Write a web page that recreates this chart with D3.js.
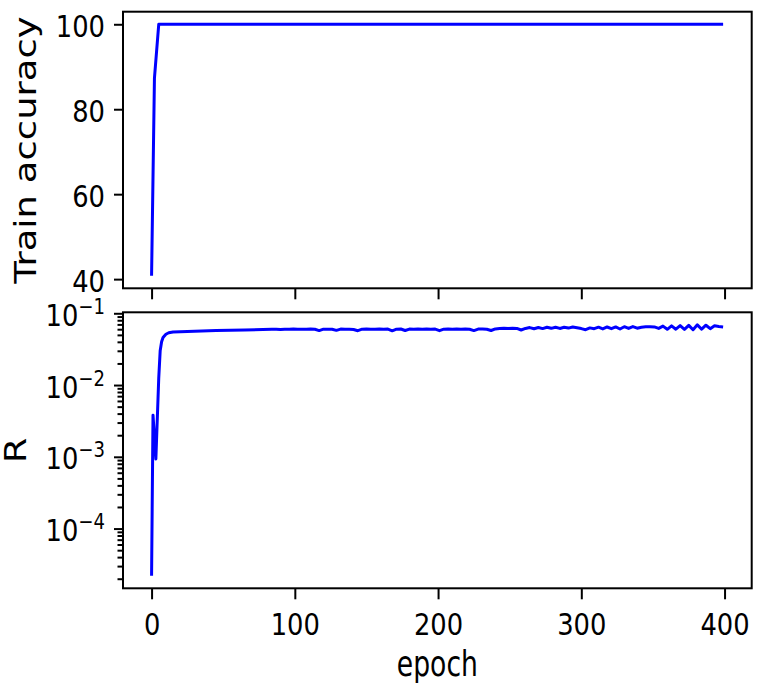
<!DOCTYPE html>
<html>
<head>
<meta charset="utf-8">
<script src="https://cdn.jsdelivr.net/npm/d3@7"></script>
<style>
  body { margin: 0; background: #fff; }
  text { font-family: "DejaVu Sans", sans-serif; fill: #000; }
</style>
</head>
<body>
<div id="chart"></div>
<script>
// tick labels
const epochTicks = [0, 100, 200, 300, 400];
const accTicks = [40, 60, 80, 100];
const rExponents = [-4, -3, -2, -1];

// train accuracy, only breakpoints (flat at 100 after epoch 5)
const accEpochs = [0, 2, 5, 399];
const accValues = [40.8, 87.3, 100, 100];

// R, early smooth part
const rEarlyEpochs = [0, 1, 3, 5, 6, 7, 8, 10, 12, 15, 25, 45, 65, 84];
const rEarlyValues = [2.2e-5, 3.8e-3, 9.3e-4, 0.0125, 0.030, 0.040, 0.046, 0.051,
  0.0535, 0.0548, 0.0558, 0.0574, 0.0587, 0.0597];

// R, noisy part, read every 3 epochs from 87 to 399
const rLateValues = [
  0.0600, 0.0596, 0.0601, 0.0598, 0.0602, 0.0597, 0.0600, 0.0599, 0.0602, 0.0598,
  0.0574, 0.0601, 0.0597, 0.0600, 0.0578, 0.0602, 0.0599, 0.0601, 0.0595, 0.0572,
  0.0600, 0.0603, 0.0598, 0.0601, 0.0603, 0.0600, 0.0602, 0.0570, 0.0600, 0.0603,
  0.0576, 0.0602, 0.0599, 0.0604, 0.0601, 0.0603, 0.0600, 0.0602, 0.0573, 0.0601,
  0.0604, 0.0598, 0.0603, 0.0600, 0.0605, 0.0598, 0.0574, 0.0602, 0.0606, 0.0600,
  0.0575, 0.0605,
  0.0612, 0.0618, 0.0614, 0.0620, 0.0616, 0.0585, 0.0615, 0.0632, 0.0610, 0.0634,
  0.0612, 0.0638, 0.0617, 0.0640, 0.0615, 0.0638, 0.0622, 0.0645, 0.0628, 0.0612,
  0.0590, 0.0626, 0.0610, 0.0640, 0.0606, 0.0644, 0.0610, 0.0646, 0.0604, 0.0650,
  0.0614, 0.0652, 0.0620, 0.0640, 0.0648, 0.0650, 0.0645, 0.0615, 0.0662, 0.0598,
  0.0668, 0.0600, 0.0672, 0.0595, 0.0678, 0.0590, 0.0690, 0.0600, 0.0682, 0.0610,
  0.0668, 0.0655, 0.0645
];
const rLateEpochs = d3.range(87, 400, 3);

const W = 761, H = 685;
// the picture is squeezed horizontally, text follows
const tickFont = 30, tickSX = 0.86;
const labelFont = 37, labelSX = 0.8;
const left = 123, right = 751.7;
const top1 = 11.7, bot1 = 288.3;
const top2 = 312.3, bot2 = 588.3;
const labelEnd = -(left - 105) / tickSX;   // tick labels end at x = 105

const pad = ([a, b]) => { const m = (b - a) * 0.05; return [a - m, b + m]; };
const padLog = ([a, b]) => {
  const lo = Math.log10(a), hi = Math.log10(b), m = (hi - lo) * 0.05;
  return [Math.pow(10, lo - m), Math.pow(10, hi + m)];
};

const accData = accEpochs.map((e, i) => ({ e, v: accValues[i] }));
const rData = rEarlyEpochs.map((e, i) => ({ e, v: rEarlyValues[i] }))
  .concat(rLateEpochs.map((e, i) => ({ e, v: rLateValues[i] })));

const svg = d3.select('#chart').append('svg')
  .attr('width', W)
  .attr('height', H);

const x = d3.scaleLinear()
  .domain(pad(d3.extent(rData, d => d.e)))
  .range([left, right]);
const yAcc = d3.scaleLinear()
  .domain(pad(d3.extent(accValues)))
  .range([bot1, top1]);
const yR = d3.scaleLog()
  .domain(padLog(d3.extent(rData, d => d.v)))
  .range([bot2, top2]);

function styleAxis(g) {
  g.attr('font-size', null).attr('font-family', null);
  g.select('.domain').remove();
  g.selectAll('.tick line').attr('stroke', '#000').attr('stroke-width', 2);
}

// ---- top panel: train accuracy
svg.append('g')
  .attr('transform', `translate(0,${bot1})`)
  .call(d3.axisBottom(x).tickValues(epochTicks).tickSize(11).tickFormat(''))
  .call(styleAxis);

const yAccAxis = svg.append('g')
  .attr('transform', `translate(${left},0)`)
  .call(d3.axisLeft(yAcc).tickValues(accTicks).tickSize(9))
  .call(styleAxis);
yAccAxis.selectAll('.tick text')
  .attr('font-size', tickFont)
  .attr('x', labelEnd)
  .attr('dy', '0.42em')
  .attr('transform', `scale(${tickSX},1)`);

svg.append('path')
  .datum(accData)
  .attr('fill', 'none')
  .attr('stroke', '#0000ff')
  .attr('stroke-width', 3)
  .attr('stroke-linejoin', 'round')
  .attr('d', d3.line().x(d => x(d.e)).y(d => yAcc(d.v)));

svg.append('rect')
  .attr('x', left).attr('y', top1)
  .attr('width', right - left).attr('height', bot1 - top1)
  .attr('fill', 'none').attr('stroke', '#000').attr('stroke-width', 2);

svg.append('text')
  .attr('transform', `translate(36,${(top1 + bot1) / 2}) rotate(-90) scale(1,${labelSX})`)
  .attr('text-anchor', 'middle')
  .attr('font-size', labelFont)
  .text('Train accuracy');

// ---- bottom panel: R (log scale)
const xAxis = svg.append('g')
  .attr('transform', `translate(0,${bot2})`)
  .call(d3.axisBottom(x).tickValues(epochTicks).tickSize(11).tickPadding(14))
  .call(styleAxis);
xAxis.selectAll('.tick text')
  .attr('font-size', tickFont)
  .attr('transform', `scale(${tickSX},1)`);

const [rLo, rHi] = yR.domain();
const minors = [];
for (let k = Math.floor(Math.log10(rLo)); k <= Math.ceil(Math.log10(rHi)); k++) {
  for (let m = 2; m <= 9; m++) {
    const v = m * Math.pow(10, k);
    if (v >= rLo && v <= rHi) minors.push(v);
  }
}
svg.append('g')
  .attr('transform', `translate(${left},0)`)
  .call(d3.axisLeft(yR).tickValues(minors).tickSize(5.5).tickFormat(''))
  .call(styleAxis);

const yRAxis = svg.append('g')
  .attr('transform', `translate(${left},0)`)
  .call(d3.axisLeft(yR).tickValues(rExponents.map(p => Math.pow(10, p))).tickSize(9).tickFormat(''))
  .call(styleAxis);
yRAxis.selectAll('.tick text')
  .data(rExponents)
  .attr('font-size', tickFont)
  .attr('x', labelEnd)
  .attr('dy', '0.4em')
  .attr('transform', `scale(${tickSX},1)`)
  .each(function (p) {
    const t = d3.select(this);
    t.append('tspan').text('10');
    t.append('tspan').attr('font-size', 21).attr('dy', -12).text('\u2212' + Math.abs(p));
  });

svg.append('path')
  .datum(rData)
  .attr('fill', 'none')
  .attr('stroke', '#0000ff')
  .attr('stroke-width', 3)
  .attr('stroke-linejoin', 'round')
  .attr('d', d3.line().x(d => x(d.e)).y(d => yR(d.v)));

svg.append('rect')
  .attr('x', left).attr('y', top2)
  .attr('width', right - left).attr('height', bot2 - top2)
  .attr('fill', 'none').attr('stroke', '#000').attr('stroke-width', 2);

svg.append('text')
  .attr('transform', `translate(26,${(top2 + bot2) / 2}) rotate(-90) scale(1,${labelSX})`)
  .attr('text-anchor', 'middle')
  .attr('font-size', labelFont)
  .text('R');

svg.append('text')
  .attr('transform', `translate(${(left + right) / 2},676) scale(0.74,1)`)
  .attr('text-anchor', 'middle')
  .attr('font-size', 36)
  .text('epoch');
</script>
</body>
</html>
